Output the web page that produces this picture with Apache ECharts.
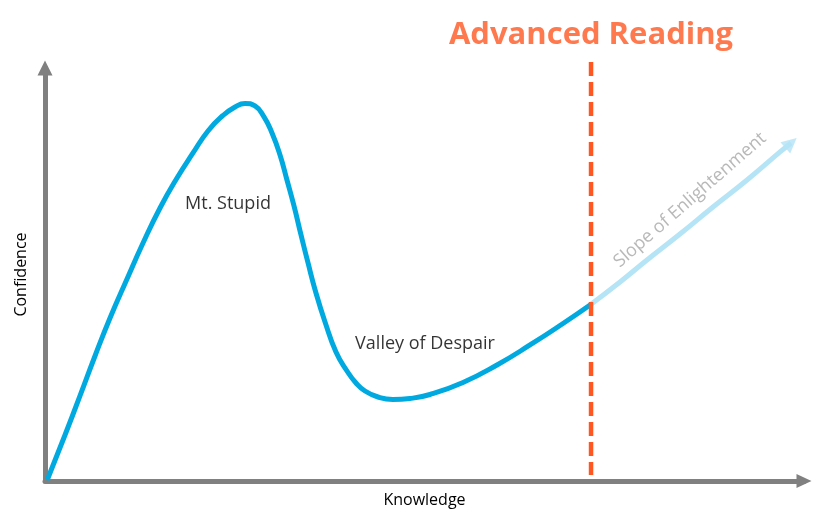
<!DOCTYPE html>
<html>
<head>
<meta charset="utf-8">
<script src="https://cdn.jsdelivr.net/npm/echarts@6/dist/echarts.min.js"></script>
<style>html,body{margin:0;padding:0;background:#fff;}#c{width:828px;height:526px;}</style>
</head>
<body>
<div id="c"></div>
<script>
// Dunning-Kruger curve, knowledge (x) vs confidence (y), 0..100 scale
var curveX = [0.40,2.65,4.63,6.62,8.61,10.86,12.98,15.23,17.48,19.60,21.58,23.57,25.16,26.48,27.81,29.00,30.06,31.12,32.04,32.97,33.90,34.83,35.88,37.08,38.53,39.99,41.18,42.37,44.09,46.08,48.33,50.98,55.35,59.85,64.22,68.59,72.17];
var curveY = [0.73,11.19,20.69,30.42,39.67,49.16,57.92,66.44,73.74,79.82,85.18,88.95,91.02,91.87,91.26,88.59,84.69,79.34,73.25,66.93,59.87,53.05,45.75,38.70,31.39,26.77,23.85,21.90,20.44,19.83,20.08,21.05,23.97,28.23,33.10,38.33,42.83];
var slopeX = [72.17,76.14,79.71,84.08,88.45,92.96,97.33,98.78];
var slopeY = [42.83,48.43,53.78,60.11,66.68,73.25,80.07,82.26];
var markerX = 72.3;
var markerY = [101.97, 1.46];
var titleText = 'Advanced Reading';
var annotations = [
  {x: 24.23, y: 67.41, text: 'Mt. Stupid', color: '#000000', rotate: 0},
  {x: 50.32, y: 33.34, text: 'Valley of Despair', color: '#000000', rotate: 0},
  {x: 85.41, y: 68.39, text: 'Slope of Enlightenment', color: '#A6A6A6', rotate: 41}
];
var xName = 'Knowledge';
var yName = 'Confidence';

function zip(a, b) { return a.map(function (v, i) { return [v, b[i]]; }); }

var FONT = 'Open Sans';
var chart = echarts.init(document.getElementById('c'));
chart.setOption({
  animation: false,
  grid: {left: 45, right: 24, top: 68, bottom: 45},
  xAxis: {
    type: 'value', min: 0, max: 100.5,
    splitLine: {show: false}, axisTick: {show: false}, axisLabel: {show: false},
    axisLine: {show: true, symbol: ['none', 'triangle'], symbolSize: [14, 15], lineStyle: {color: '#808080', width: 5}},
    name: xName, nameLocation: 'middle', nameGap: 11,
    nameTextStyle: {color: '#000', fontSize: 16, fontFamily: FONT}
  },
  yAxis: {
    type: 'value', min: 0, max: 100.5,
    splitLine: {show: false}, axisTick: {show: false}, axisLabel: {show: false},
    axisLine: {show: true, symbol: ['none', 'triangle'], symbolSize: [15, 15], lineStyle: {color: '#808080', width: 5}},
    name: yName, nameLocation: 'middle', nameGap: 16,
    nameTextStyle: {color: '#000', fontSize: 16, fontFamily: FONT}
  },
  series: [
    {
      type: 'line', data: zip(slopeX, slopeY), smooth: 0.5, symbol: 'none', silent: true, clip: false,
      lineStyle: {color: '#B4E4F6', width: 5}
    },
    {
      type: 'scatter', data: [[slopeX[slopeX.length - 1], slopeY[slopeY.length - 1]]],
      symbol: 'triangle', symbolSize: [15, 15], symbolRotate: -49, silent: true, clip: false,
      itemStyle: {color: '#B4E4F6'}
    },
    {
      type: 'line', data: zip(curveX, curveY), smooth: 0.5, symbol: 'none', silent: true, clip: false,
      lineStyle: {color: '#00A9E0', width: 5, cap: 'round'}
    },
    {
      type: 'line', silent: true, clip: false, symbol: 'none',
      data: [[markerX, markerY[0]], [markerX, markerY[1]]],
      lineStyle: {color: '#FF5722', width: 4.5, type: [14, 6]}
    },
    {
      type: 'scatter', silent: true, clip: false, symbolSize: 1, itemStyle: {color: 'rgba(0,0,0,0)'},
      data: [{value: [markerX, markerY[0]], label: {show: true, position: 'top', distance: 11, formatter: titleText,
          color: '#FF5722', fontSize: 31, fontWeight: 'bold', fontFamily: FONT}}]
    },
    {
      type: 'scatter', silent: true, clip: false, symbolSize: 1, itemStyle: {color: 'rgba(0,0,0,0)'},
      data: annotations.map(function (a) {
        return {value: [a.x, a.y], label: {show: true, position: 'inside', formatter: a.text,
          color: a.color, rotate: a.rotate, fontSize: 18, fontFamily: FONT, textBorderWidth: 0}};
      })
    }
  ]
});
</script>
</body>
</html>
